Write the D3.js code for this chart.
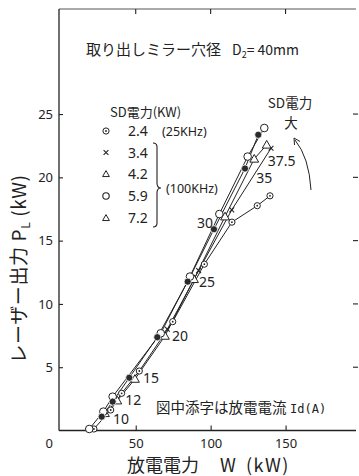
<!DOCTYPE html>
<html><head><meta charset="utf-8">
<script src="https://cdn.jsdelivr.net/npm/d3@7"></script>
<style>
html,body{margin:0;padding:0;background:#fff;}
svg{display:block;font-family:"Noto Sans CJK JP","Noto Sans",sans-serif;}
</style></head>
<body><svg id="c" width="359" height="476"></svg>
<script>
// ---- data ----
const currents = [10, 12, 15, 20, 25, 30, 35, 37.5];           // 放電電流 Id(A)
const filledW = [27.3, 34.6, 45.7, 64.4, 84.7, 102.2, 122.9, 131.8];
const filledP = [1.09, 2.28, 4.17, 7.37, 11.76, 15.9, 20.7, 23.36];
const openW   = [19.0, 28.4, 34.6, 66.7, 86.2, 105.8, 124.7, 135.8];
const openP   = [0.12, 1.49, 2.67, 7.68, 12.16, 17.1, 21.64, 23.9];
const triW    = [29.5, 37.7, 49.5, 69.5, 88.9, 109.6, 129.1, 137.4];
const triP    = [1.36, 2.36, 4.07, 7.47, 11.95, 16.9, 21.46, 22.57];
const crossW  = [71.1, 92.0, 114.1, 140.3];
const crossP  = [8.0, 12.63, 17.43, 22.3];
const dotW    = [22.1, 33.3, 40.6, 52.4, 74.7, 95.8, 114.2, 131.1, 139.6];
const dotP    = [0.12, 1.62, 2.94, 4.7, 8.6, 13.14, 16.46, 17.76, 18.54];
const xTicks = [0, 50, 100, 150];
const yTicks = [5, 10, 15, 20, 25];
const legendSym = ["dot", "cross", "tri", "open", "tri"];
const legendVal = ["2.4", "3.4", "4.2", "5.9", "7.2"];

const svg = d3.select("#c");
const ink = "#222";
const xs = d3.scaleLinear().domain([-1.2, 197]).range([59, 356]);
const ys = d3.scaleLinear().domain([0, 33.3]).range([430.5, 9]);

// frame
svg.append("line").attr("x1", 59).attr("x2", 356).attr("y1", 9).attr("y2", 9)
  .attr("stroke", "#555").attr("stroke-width", 1);

// axes
const gx = svg.append("g").attr("transform", "translate(0,430.5)")
  .call(d3.axisBottom(xs).tickValues(xTicks).tickSize(-5).tickPadding(8).tickFormat(d3.format("d")));
const gy = svg.append("g").attr("transform", "translate(59,0)")
  .call(d3.axisLeft(ys).tickValues(yTicks).tickSize(-4).tickPadding(6));
[gx, gy].forEach(g => {
  g.select(".domain").attr("stroke", ink).attr("stroke-width", 1.3);
  g.selectAll(".tick line").attr("stroke", ink).attr("stroke-width", 1.1);
  g.selectAll(".tick text").attr("fill", ink).attr("font-size", 13)
    .attr("font-family", "'Noto Sans', sans-serif");
});
gx.select(".domain").attr("d", `M${xs.range()[0]},0H${xs.range()[1]}`);
gy.select(".domain").attr("d", `M0,${ys.range()[0]}V${ys.range()[1]}`);
gx.selectAll(".tick").filter(d => d === 0).each(function () {
  d3.select(this).select("line").remove();
  d3.select(this).select("text").attr("x", -12);
});
// top & right ticks
svg.append("g").selectAll("line").data(xTicks.filter(d => d > 0)).join("line")
  .attr("x1", d => xs(d)).attr("x2", d => xs(d)).attr("y1", 9).attr("y2", 14)
  .attr("stroke", ink).attr("stroke-width", 1.1);
svg.append("g").selectAll("line").data(yTicks).join("line")
  .attr("x1", 358).attr("x2", 353).attr("y1", d => ys(d)).attr("y2", d => ys(d))
  .attr("stroke", ink).attr("stroke-width", 1.1);

// axis titles
const xl = svg.append("text").attr("y", 472).attr("font-size", 18).attr("fill", ink);
xl.append("tspan").attr("x", 127).text("放電電力");
xl.append("tspan").attr("x", 220).text("W");
xl.append("tspan").attr("x", 246).attr("letter-spacing", 1.5).text("(kW)");
const yl = svg.append("text").attr("transform", "translate(26,269) rotate(-90)")
  .attr("text-anchor", "middle").attr("font-size", 19).attr("fill", ink)
  .attr("letter-spacing", 0.6);
yl.append("tspan").text("レーザー出力  P");
yl.append("tspan").attr("font-size", 12).attr("dy", 4).text("L");
yl.append("tspan").attr("dy", -4).text("  (kW)");

// series lines
const zip = (w, p) => w.map((v, i) => [v, p[i]]);
const line = d3.line().x(d => xs(d[0])).y(d => ys(d[1]));
const series = [
  {w: dotW, p: dotP}, {w: filledW, p: filledP}, {w: openW, p: openP},
  {w: triW, p: triP}, {w: crossW, p: crossP}
];
series.forEach(s => {
  svg.append("path").attr("d", line(zip(s.w, s.p))).attr("fill", "none")
    .attr("stroke", ink).attr("stroke-width", 1);
});

// marker drawing
function mark(g, type, x, y) {
  if (type === "open") {
    g.append("circle").attr("cx", x).attr("cy", y).attr("r", 3.8)
      .attr("fill", "#fff").attr("stroke", ink).attr("stroke-width", 1);
  } else if (type === "filled") {
    g.append("circle").attr("cx", x).attr("cy", y).attr("r", 3.6)
      .attr("fill", "#2a2a2a").attr("stroke", "#fff").attr("stroke-width", 0.8);
  } else if (type === "dot") {
    g.append("circle").attr("cx", x).attr("cy", y).attr("r", 3.1)
      .attr("fill", "#fff").attr("stroke", ink).attr("stroke-width", 1);
    g.append("circle").attr("cx", x).attr("cy", y).attr("r", 0.9).attr("fill", ink);
  } else if (type === "tri") {
    const s = 4.4;
    g.append("path").attr("d", `M${x},${y - s}L${x + s},${y + s * 0.75}L${x - s},${y + s * 0.75}Z`)
      .attr("fill", "#fff").attr("stroke", ink).attr("stroke-width", 1);
  } else if (type === "cross") {
    const s = 2.4;
    g.append("path").attr("d", `M${x - s},${y - s}L${x + s},${y + s}M${x + s},${y - s}L${x - s},${y + s}`)
      .attr("stroke", ink).attr("stroke-width", 1.1);
  }
}
const mg = svg.append("g");
dotW.forEach((w, i) => mark(mg, "dot", xs(w), ys(dotP[i])));
crossW.forEach((w, i) => mark(mg, "cross", xs(w), ys(crossP[i])));
triW.forEach((w, i) => mark(mg, "tri", xs(w), ys(triP[i])));
openW.forEach((w, i) => mark(mg, "open", xs(w), ys(openP[i])));
filledW.forEach((w, i) => mark(mg, "filled", xs(w), ys(filledP[i])));

// current labels (anchored to the triangle points)
const lblOff = [[8, 11], [8, 4.5], [8, 4.5], [7, 5], [5, 8], [-28, 11], [2, 24], [1, 21]];
svg.append("g").selectAll("text").data(currents).join("text")
  .attr("x", (d, i) => xs(triW[i]) + lblOff[i][0])
  .attr("y", (d, i) => ys(triP[i]) + lblOff[i][1])
  .attr("font-size", 14).attr("fill", ink).attr("font-family", "'Noto Sans', sans-serif")
  .text(d => d);

// title
const tt = svg.append("text").attr("y", 55).attr("fill", ink);
tt.append("tspan").attr("x", 86).attr("font-size", 15).text("取り出しミラー穴径");
tt.append("tspan").attr("x", 232).attr("font-size", 14).text("D");
tt.append("tspan").attr("font-size", 9).attr("dy", 3).text("2");
tt.append("tspan").attr("font-size", 14).attr("dy", -3).text("= 40mm");

// legend
svg.append("text").attr("x", 110).attr("y", 117).attr("font-size", 13).attr("fill", ink).text("SD電力(KW)");
const rowY = [131, 152.5, 174, 196, 218];
const lg = svg.append("g");
legendSym.forEach((s, i) => {
  if (s === "tri") {
    const x = 106, y = rowY[i], k = 3.4;
    lg.append("path").attr("d", `M${x},${y - k}L${x + k},${y + k * 0.75}L${x - k},${y + k * 0.75}Z`)
      .attr("fill", "#fff").attr("stroke", ink).attr("stroke-width", 1);
  } else if (s === "open") {
    lg.append("circle").attr("cx", 106).attr("cy", rowY[i]).attr("r", 3.2)
      .attr("fill", "#fff").attr("stroke", ink).attr("stroke-width", 1.1);
  } else {
    mark(lg, s, 106, rowY[i]);
  }
});
lg.selectAll("text.v").data(legendVal).join("text").attr("class", "v")
  .attr("x", 128).attr("y", (d, i) => rowY[i] + 5).attr("font-size", 14).attr("fill", ink)
  .attr("font-family", "'Noto Sans', sans-serif").text(d => d);
lg.append("text").attr("x", 162).attr("y", rowY[0] + 5).attr("font-size", 12.5).attr("fill", ink)
  .attr("font-family", "'Noto Sans', sans-serif").text("(25KHz)");
lg.append("path")
  .attr("d", "M153,143 Q157,143 157,147 L157,183 Q157,188 161,188 Q157,188 157,193 L157,223 Q157,227 153,227")
  .attr("fill", "none").attr("stroke", ink).attr("stroke-width", 1.1);
lg.append("text").attr("x", 166).attr("y", 193).attr("font-size", 12.5).attr("fill", ink)
  .attr("font-family", "'Noto Sans', sans-serif").text("(100KHz)");

// SD電力 大 with arrow
svg.append("text").attr("x", 290).attr("y", 108).attr("text-anchor", "middle").attr("font-size", 13.5).attr("fill", ink).text("SD電力");
svg.append("text").attr("x", 291).attr("y", 128).attr("text-anchor", "middle").attr("font-size", 13.5).attr("fill", ink).text("大");
svg.append("path").attr("d", "M311,190 Q309,157 295,140").attr("fill", "none").attr("stroke", ink).attr("stroke-width", 1);
svg.append("path").attr("d", "M294,138 L294.5,145 M294,138 L300,141.5").attr("fill", "none").attr("stroke", ink).attr("stroke-width", 1);

// note
const nt = svg.append("text").attr("y", 413).attr("fill", ink);
nt.append("tspan").attr("x", 156).attr("font-size", 14.5).text("図中添字は放電電流");
nt.append("tspan").attr("x", 290).attr("font-size", 12).attr("font-family", "'DejaVu Sans Mono', monospace").text("Id(A)");
</script></body></html>
